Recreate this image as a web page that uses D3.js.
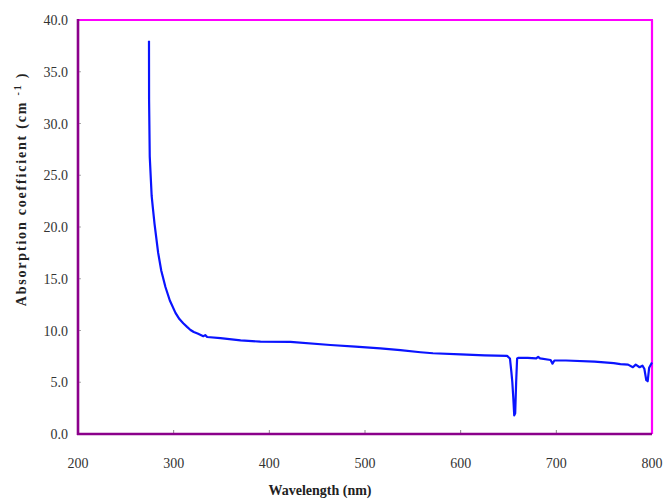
<!DOCTYPE html>
<html>
<head>
<meta charset="utf-8">
<script src="https://cdn.jsdelivr.net/npm/d3@7"></script>
<style>
  body { margin: 0; background: #fff; }
  svg { display: block; }
  svg text { font-family: "Liberation Serif", "Times New Roman", serif; }
</style>
</head>
<body>
<svg id="chart" width="664" height="500"></svg>
<script>
// Data
const wavelength = [274.2, 274.3, 275.0, 277.0, 278.2, 280.0, 283.8, 287.0, 291.4, 296.0, 301.9, 306.0, 310.0, 314.0, 317.6, 321.0, 325.0, 331.0, 333.0, 335.0, 348.9, 370.0, 390.7, 422.0, 463.8, 490.0, 516.0, 537.0, 558.0, 571.0, 600.0, 625.0, 648.5, 651.5, 653.0, 654.0, 655.0, 656.0, 657.0, 658.0, 659.0, 660.0, 670.0, 679.0, 681.0, 683.0, 694.0, 696.0, 698.0, 710.0, 740.0, 760.0, 767.0, 775.0, 780.0, 783.0, 787.0, 790.0, 792.0, 794.0, 795.5, 797.0, 800.0];
const absorption = [38.0, 32.3, 26.8, 23.0, 21.9, 20.3, 17.5, 15.8, 14.2, 12.9, 11.7, 11.1, 10.7, 10.35, 10.05, 9.85, 9.7, 9.45, 9.55, 9.37, 9.27, 9.05, 8.92, 8.9, 8.6, 8.45, 8.28, 8.1, 7.9, 7.8, 7.7, 7.6, 7.55, 7.3, 6.0, 5.0, 3.5, 1.8, 2.0, 5.0, 7.3, 7.35, 7.35, 7.3, 7.45, 7.3, 7.15, 6.8, 7.1, 7.1, 7.0, 6.85, 6.75, 6.7, 6.45, 6.7, 6.45, 6.6, 6.3, 5.2, 5.1, 6.4, 6.9];
const xTicks = [200, 300, 400, 500, 600, 700, 800];
const yTicks = [0, 5, 10, 15, 20, 25, 30, 35, 40];

const svg = d3.select("#chart");
const L = 78, R = 652, T = 20, B = 434;

const x = d3.scaleLinear().domain([200, 800]).range([L, R]);
const y = d3.scaleLinear().domain([0, 40]).range([B, T]);

// inner ticks
svg.append("g").selectAll("line").data(xTicks.slice(1, -1)).join("line")
  .attr("x1", d => x(d)).attr("x2", d => x(d))
  .attr("y1", B).attr("y2", B - 4)
  .attr("stroke", "#888").attr("stroke-width", 1);
svg.append("g").selectAll("line").data(yTicks.slice(1, -1)).join("line")
  .attr("x1", L).attr("x2", L + 3)
  .attr("y1", d => y(d)).attr("y2", d => y(d))
  .attr("stroke", "#aaa").attr("stroke-width", 1);

// frame: top and right magenta
svg.append("line").attr("x1", L).attr("x2", R + 1).attr("y1", T).attr("y2", T)
  .attr("stroke", "#ff00ff").attr("stroke-width", 2.2);
svg.append("line").attr("x1", R).attr("x2", R).attr("y1", T).attr("y2", B)
  .attr("stroke", "#ff00ff").attr("stroke-width", 2.2);

// data line
const line = d3.line().x((d, i) => x(wavelength[i])).y(d => y(d));
svg.append("path").datum(absorption)
  .attr("d", line)
  .attr("fill", "none")
  .attr("stroke", "#0a14ff")
  .attr("stroke-width", 2.2)
  .attr("stroke-linejoin", "round");

// left and bottom purple axes
svg.append("line").attr("x1", L).attr("x2", L).attr("y1", T - 1).attr("y2", B + 1)
  .attr("stroke", "#8b008b").attr("stroke-width", 2.6);
svg.append("line").attr("x1", L - 1).attr("x2", R).attr("y1", B).attr("y2", B)
  .attr("stroke", "#8b008b").attr("stroke-width", 2.6);

// tick labels
svg.append("g").selectAll("text").data(yTicks).join("text")
  .attr("x", 68).attr("y", d => y(d) + 5)
  .attr("text-anchor", "end")
  .attr("font-size", 14).attr("fill", "#333")
  .text(d => d.toFixed(1));
svg.append("g").selectAll("text").data(xTicks).join("text")
  .attr("x", d => x(d)).attr("y", 468)
  .attr("text-anchor", "middle")
  .attr("font-size", 14).attr("fill", "#333")
  .text(d => d);

// axis titles
svg.append("text").attr("x", 320).attr("y", 495)
  .attr("text-anchor", "middle").attr("font-size", 14).attr("font-weight", "bold")
  .attr("fill", "#222").text("Wavelength (nm)");

const yt = svg.append("text")
  .attr("transform", "translate(26,189) rotate(-90)")
  .attr("text-anchor", "middle").attr("font-size", 14).attr("font-weight", "bold")
  .attr("fill", "#222").attr("letter-spacing", 1.8);
yt.append("tspan").text("Absorption coefficient  (cm ");
yt.append("tspan").attr("dy", -5).attr("font-size", 10).text("-1");
yt.append("tspan").attr("dy", 5).text(" )");
</script>
</body>
</html>
